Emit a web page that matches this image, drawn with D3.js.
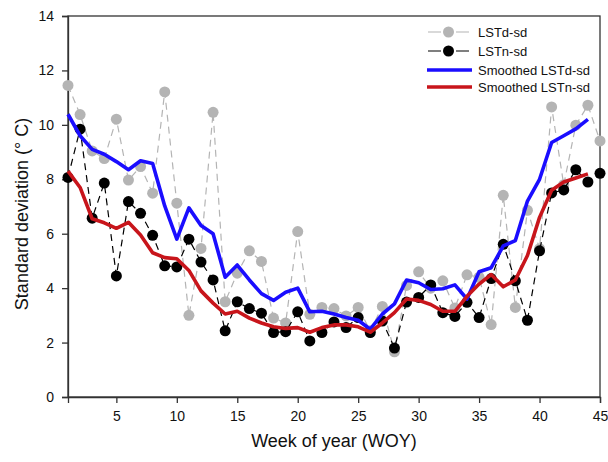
<!DOCTYPE html>
<html>
<head>
<meta charset="utf-8">
<script src="https://cdn.jsdelivr.net/npm/d3@7"></script>
<style>
	body { margin: 0; background: #fff; }
	svg { font-family: "Liberation Sans", Arial, sans-serif; }
</style>
</head>
<body>
<div id="chart"></div>
<script>
	"use strict";

	// week of year
	var weeks = [1, 2, 3, 4, 5, 6, 7, 8, 9, 10, 11, 12, 13, 14, 15, 16, 17, 18, 19, 20, 21, 22,
		23, 24, 25, 26, 27, 28, 29, 30, 31, 32, 33, 34, 35, 36, 37, 38, 39, 40, 41, 42, 43, 44, 45];

	var lstdSd = [11.45, 10.38, 9.04, 8.76, 10.21, 7.97, 8.47, 7.49, 11.21, 7.12,
		3.0, 5.46, 10.46, 3.5, 4.55, 5.37, 4.98, 2.9, 2.72, 6.08,
		3.04, 3.29, 3.25, 2.98, 3.29, 2.43, 3.33, 1.66, 4.1, 4.6,
		4.0, 4.27, 3.27, 4.49, 4.4, 2.66, 7.41, 3.29, 6.86, 5.45,
		10.66, 7.8, 9.99, 10.72, 9.41];

	var lstnSd = [8.07, 9.84, 6.57, 7.86, 4.45, 7.18, 6.75, 5.94, 4.82, 4.78,
		5.8, 4.96, 4.3, 2.43, 3.5, 3.25, 3.08, 2.37, 2.4, 3.13,
		2.06, 2.37, 2.76, 2.55, 2.92, 2.37, 2.79, 1.8, 3.49, 3.66,
		4.12, 3.1, 2.96, 3.48, 2.92, 4.35, 5.61, 4.27, 2.82, 5.37,
		7.5, 7.61, 8.35, 7.9, 8.22];

	// smoothed series run from week 1 to week 44
	var smoothLstd = [10.39, 9.6, 9.1, 8.92, 8.65, 8.35, 8.68, 8.58, 7.02, 5.8,
		6.95, 6.3, 6.0, 4.4, 4.85, 4.3, 3.8, 3.55, 3.85, 4.0,
		3.13, 3.15, 3.05, 2.92, 2.82, 2.49, 3.05, 3.42, 4.3, 4.2,
		3.95, 3.98, 4.12, 3.6, 4.6, 4.75, 5.55, 5.75, 7.2, 8.0,
		9.35, 9.6, 9.85, 10.2];

	var smoothLstn = [8.3, 7.7, 6.55, 6.4, 6.2, 6.42, 5.95, 5.3, 5.12, 5.08,
		4.65, 3.9, 3.45, 3.05, 3.15, 2.9, 2.72, 2.58, 2.52, 2.55,
		2.38, 2.55, 2.65, 2.65, 2.58, 2.38, 2.72, 3.1, 3.6, 3.55,
		3.4, 3.15, 3.15, 3.7, 4.15, 4.5, 4.05, 4.3, 5.2, 6.6,
		7.6, 7.9, 8.05, 8.2];

	var xTicks = [5, 10, 15, 20, 25, 30, 35, 40, 45];
	var yTicks = [0, 2, 4, 6, 8, 10, 12, 14];

	(function() {
		var width = 608, height = 462;
		var plotLeft = 68, plotTop = 16, plotRight = 600, plotBottom = 397;

		var svg = d3.select("#chart").append("svg")
			.attr("width", width)
			.attr("height", height);

		var x = d3.scaleLinear().domain([1, 45]).range([plotLeft, plotRight]);
		var y = d3.scaleLinear().domain([0, 14]).range([plotBottom, plotTop]);

		// frame
		svg.append("rect")
			.attr("x", plotLeft).attr("y", plotTop)
			.attr("width", plotRight - plotLeft).attr("height", plotBottom - plotTop)
			.attr("fill", "none")
			.attr("stroke", "#333")
			.attr("stroke-width", 1.3);

		var xAxis = svg.append("g")
			.attr("transform", "translate(0," + plotBottom + ")")
			.call(d3.axisBottom(x).tickValues(xTicks).tickSize(6).tickPadding(8));

		var yAxis = svg.append("g")
			.attr("transform", "translate(" + plotLeft + ",0)")
			.call(d3.axisLeft(y).tickValues(yTicks).tickSize(6).tickPadding(8));

		[xAxis, yAxis].forEach(function(g) {
			g.select(".domain").attr("stroke", "#333").attr("stroke-width", 1.3);
			g.selectAll(".tick line").attr("stroke", "#333").attr("stroke-width", 1.3);
			g.selectAll(".tick text")
				.attr("fill", "#111")
				.style("font-size", "14px")
				.style("font-family", "'Liberation Sans', Arial, sans-serif");
		});

		svg.append("text")
			.attr("x", (plotLeft + plotRight) / 2)
			.attr("y", 447)
			.attr("text-anchor", "middle")
			.style("font-size", "18px")
			.attr("fill", "#111")
			.text("Week of year (WOY)");

		svg.append("text")
			.attr("transform", "translate(28,214) rotate(-90)")
			.attr("text-anchor", "middle")
			.style("font-size", "18px")
			.attr("fill", "#111")
			.text("Standard deviation (° C)");

		var lineRaw = d3.line()
			.x(function(d, i) { return x(weeks[i]); })
			.y(function(d) { return y(d); });

		function drawPoints(values, colour) {
			svg.append("path")
				.datum(values)
				.attr("d", lineRaw)
				.attr("fill", "none")
				.attr("stroke", colour)
				.attr("stroke-width", 1.2)
				.attr("stroke-dasharray", "7,5");

			svg.append("g").selectAll("circle")
				.data(values)
				.enter()
				.append("circle")
				.attr("cx", function(d, i) { return x(weeks[i]); })
				.attr("cy", function(d) { return y(d); })
				.attr("r", 5.5)
				.attr("fill", colour);
		}

		drawPoints(lstdSd, "#b4b4b4");
		drawPoints(lstnSd, "#000");

		function drawSmooth(values, colour) {
			svg.append("path")
				.datum(values)
				.attr("d", lineRaw)
				.attr("fill", "none")
				.attr("stroke", colour)
				.attr("stroke-width", 3.6)
				.attr("stroke-linejoin", "round");
		}

		drawSmooth(smoothLstd, "#1a0dff");
		drawSmooth(smoothLstn, "#c8151b");

		// legend
		var legendItems = [
			{ label: "LSTd-sd", colour: "#b4b4b4", dot: true },
			{ label: "LSTn-sd", colour: "#000", dot: true },
			{ label: "Smoothed LSTd-sd", colour: "#1a0dff", dot: false },
			{ label: "Smoothed LSTn-sd", colour: "#c8151b", dot: false }
		];
		var legendY = [32, 51, 70, 87];

		var legend = svg.append("g").selectAll("g")
			.data(legendItems)
			.enter()
			.append("g")
			.attr("transform", function(d, i) { return "translate(0," + legendY[i] + ")"; });

		legend.append("line")
			.attr("x1", function(d) { return d.dot ? 428 : 427; })
			.attr("x2", function(d) { return d.dot ? 469 : 472; })
			.attr("stroke", function(d) { return d.colour; })
			.attr("stroke-width", function(d) { return d.dot ? 1.2 : 3.6; })
			.attr("stroke-dasharray", function(d) { return d.dot ? "13,15" : null; });

		legend.filter(function(d) { return d.dot; })
			.append("circle")
			.attr("cx", 448.5)
			.attr("r", 5.5)
			.attr("fill", function(d) { return d.colour; });

		legend.append("text")
			.attr("x", 478)
			.attr("y", 5)
			.style("font-size", "13px")
			.attr("fill", "#111")
			.text(function(d) { return d.label; });
	})();
</script>
</body>
</html>
